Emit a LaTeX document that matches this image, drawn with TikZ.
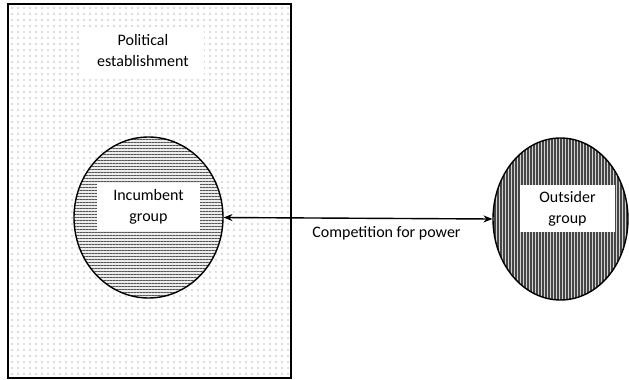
\documentclass[tikz,border=0pt]{standalone}
\usepackage{fontspec}
\setmainfont{Carlito}
\usetikzlibrary{positioning, arrows.meta, shapes.geometric, patterns.meta}

\tikzset{
  textbox/.style={fill=white, inner sep=0pt, align=center, font=\fontsize{16}{21}\selectfont},
  groupshape/.style={ellipse, draw, line width=1.4pt, inner sep=0pt},
}

\begin{document}
\begin{tikzpicture}[x=1pt, y=-1pt]
    \useasboundingbox (0,0) rectangle (629,380);

    % Political establishment (dotted box)
    \node[draw, line width=2.2pt, minimum width=283pt, minimum height=374pt,
          preaction={fill=white}, pattern={Dots[distance=6pt, radius=0.8pt]},
          pattern color=gray!55] (establishment) at (149.5,191) {};
    \node[textbox, minimum width=121pt, minimum height=47pt] (establishmentlabel) at (143,51)
        {Political\\establishment};

    % Groups
    \node[groupshape, minimum width=149pt, minimum height=161pt,
          preaction={fill=gray!15},
          pattern={Lines[angle=0, distance=3pt, line width=1pt]},
          pattern color=gray!65!black] (incumbent) at (148.5,217.5) {};
    \node[textbox, minimum width=103pt, minimum height=48pt] (incumbentlabel) at (148.5,207)
        {Incumbent\\group};

    \node[groupshape, minimum width=135pt, minimum height=162pt,
          preaction={fill=gray!35},
          pattern={Lines[angle=90, distance=3pt, line width=1.1pt]},
          pattern color=gray!55!black] (outsider) at (560.5,219) {};
    \node[textbox, minimum width=95pt, minimum height=47pt] (outsiderlabel) at (567.5,208.5)
        {Outsider\\group};

    % Competition
    \draw[{Stealth[length=9pt, width=7pt]}-{Stealth[length=9pt, width=7pt]}, line width=1.4pt]
        (incumbent.east) -- (outsider.west);
    \node[font=\fontsize{16}{21}\selectfont, inner sep=0pt] (competition) at (386.5,233)
        {Competition for power};
\end{tikzpicture}
\end{document}
